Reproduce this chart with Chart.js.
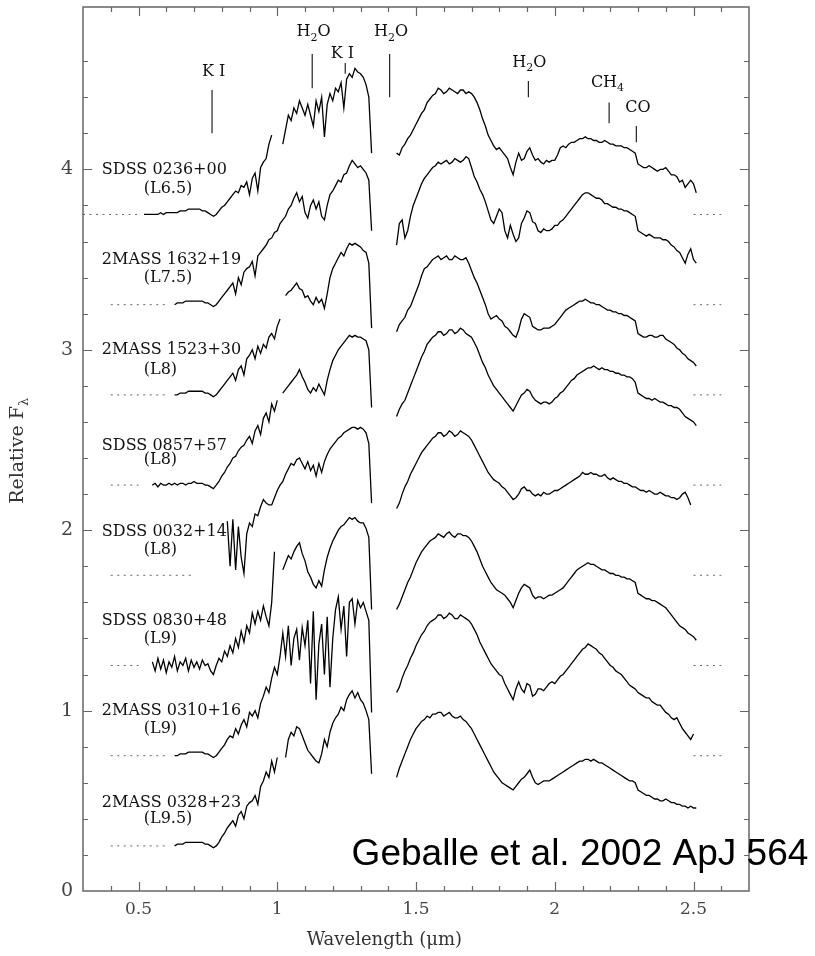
<!DOCTYPE html>
<html>
<head>
<meta charset="utf-8">
<script src="https://cdn.jsdelivr.net/npm/chart.js@4.4.1/dist/chart.umd.min.js"></script>
<style>
  html, body { margin: 0; padding: 0; background: #fff; }
  #wrap { width: 815px; height: 956px; }
</style>
</head>
<body>
<div id="wrap"><canvas id="c" width="815" height="956"></canvas></div>
<script>
// Wavelength sampling (micron) for the optical + J segment and for the H + K segment
const izWave = [
  0.52,0.53,0.54,0.55,0.56,0.57,0.58,0.59,0.60,0.61,
  0.62,0.63,0.64,0.65,0.66,0.67,0.68,0.69,0.70,0.71,
  0.72,0.73,0.74,0.75,0.76,0.77,0.78,0.79,0.80,0.81,
  0.82,0.83,0.84,0.85,0.86,0.87,0.88,0.89,0.90,0.91,
  0.92,0.93,0.94,0.95,0.96,0.97,0.98,0.99,1.00,1.01,
  1.02,1.03,1.04,1.05,1.06,1.07,1.08,1.09,1.10,1.11,
  1.12,1.13,1.14,1.15,1.16,1.17,1.18,1.19,1.20,1.21,
  1.22,1.23,1.24,1.25,1.26,1.27,1.28,1.29,1.30,1.31,
  1.32,1.33,1.34
];
const hkWave = [
  1.43,1.44,1.45,1.46,1.47,1.48,1.49,1.50,1.51,1.52,
  1.53,1.54,1.55,1.56,1.57,1.58,1.59,1.60,1.61,1.62,
  1.63,1.64,1.65,1.66,1.67,1.68,1.69,1.70,1.71,1.72,
  1.73,1.74,1.75,1.76,1.77,1.78,1.79,1.80,1.81,1.82,
  1.83,1.84,1.85,1.86,1.87,1.88,1.89,1.90,1.91,1.92,
  1.93,1.94,1.95,1.96,1.97,1.98,1.99,2.00,2.01,2.02,
  2.03,2.04,2.05,2.06,2.07,2.08,2.09,2.10,2.11,2.12,
  2.13,2.14,2.15,2.16,2.17,2.18,2.19,2.20,2.21,2.22,
  2.23,2.24,2.25,2.26,2.27,2.28,2.29,2.30,2.31,2.32,
  2.33,2.34,2.35,2.36,2.37,2.38,2.39,2.40,2.41,2.42,
  2.43,2.44,2.45,2.46,2.47,2.48,2.49,2.50,2.51
];

// Relative flux, offset per object (null = no data)
const sdss0236IZJ = [
  3.75,3.75,3.75,3.75,3.75,3.75,3.76,3.75,3.76,3.76,
  3.76,3.76,3.76,3.77,3.77,3.77,3.78,3.78,3.78,3.78,
  3.78,3.77,3.77,3.76,3.75,3.74,3.75,3.77,3.79,3.80,
  3.82,3.84,3.86,3.88,3.87,3.91,3.90,3.93,3.86,3.95,
  3.98,3.88,4.01,4.04,4.06,4.14,4.19,null,null,null,
  4.14,4.22,4.30,4.27,4.34,4.31,4.38,4.34,4.30,4.36,
  4.30,4.24,4.38,4.32,4.40,4.18,4.36,4.42,4.38,4.45,
  4.43,4.48,4.34,4.50,4.53,4.51,4.56,4.54,4.53,4.51,
  4.47,4.40,4.09
];
const sdss0236HK = [
  4.09,4.08,4.12,4.14,4.17,4.19,4.22,4.25,4.28,4.31,
  4.33,4.37,4.39,4.41,4.42,4.45,4.44,4.42,4.43,4.45,
  4.44,4.43,4.42,4.44,4.44,4.42,4.43,4.42,4.40,4.37,
  4.33,4.28,4.24,4.19,4.16,4.13,4.11,4.12,4.10,4.08,
  4.06,4.01,3.97,4.04,4.09,4.05,4.06,4.10,4.12,4.08,
  4.05,4.06,4.04,4.03,4.05,4.04,4.05,4.05,4.08,4.12,
  4.13,4.12,4.14,4.15,4.15,4.16,4.17,4.17,4.18,4.17,
  4.17,4.16,4.16,4.15,4.15,4.16,4.15,4.14,4.14,4.13,
  4.13,4.13,4.12,4.12,4.11,4.10,4.09,4.03,4.02,4.01,
  4.01,4.02,4.01,4.00,3.99,4.00,4.00,4.01,3.99,3.97,
  3.97,3.96,3.93,3.94,3.90,3.92,3.94,3.92,3.87
];
const twomass1632IZJ = [
  null,null,null,null,null,null,null,null,null,null,
  null,3.25,3.26,3.26,3.26,3.27,3.27,3.27,3.27,3.27,
  3.27,3.27,3.26,3.26,3.25,3.24,3.25,3.27,3.29,3.31,
  3.33,3.35,3.37,3.31,3.40,3.36,3.43,3.45,3.46,3.49,
  3.41,3.52,3.54,3.56,3.58,3.61,3.62,3.65,3.66,3.70,
  3.72,3.74,3.78,3.80,3.84,3.87,3.82,3.85,3.76,3.73,
  3.80,3.83,3.78,3.82,3.74,3.72,3.80,3.86,3.88,3.91,
  3.94,3.93,3.97,3.98,4.02,4.05,4.03,4.01,4.02,4.00,
  3.98,3.94,3.66
];
const twomass1632HK = [
  3.58,3.70,3.72,3.62,3.66,3.74,3.80,3.84,3.88,3.92,
  3.95,3.97,3.99,4.01,4.02,4.04,4.03,4.04,4.05,4.03,
  4.04,4.06,4.05,4.04,4.05,4.07,4.06,4.01,3.96,3.93,
  3.89,3.86,3.82,3.77,3.72,3.70,3.74,3.78,3.76,3.66,
  3.62,3.69,3.64,3.60,3.62,3.70,3.73,3.77,3.76,3.71,
  3.70,3.66,3.65,3.67,3.66,3.66,3.67,3.69,3.69,3.71,
  3.72,3.74,3.76,3.78,3.80,3.82,3.84,3.86,3.87,3.87,
  3.86,3.85,3.84,3.84,3.83,3.81,3.81,3.80,3.79,3.79,
  3.78,3.78,3.77,3.77,3.76,3.75,3.74,3.66,3.65,3.64,
  3.63,3.64,3.63,3.62,3.62,3.62,3.61,3.61,3.60,3.58,
  3.57,3.55,3.54,3.51,3.48,3.53,3.56,3.50,3.48
];
const twomass1523IZJ = [
  null,null,null,null,null,null,null,null,null,null,
  null,2.75,2.75,2.76,2.76,2.76,2.77,2.77,2.77,2.77,
  2.77,2.77,2.76,2.76,2.75,2.74,2.75,2.77,2.79,2.81,
  2.83,2.85,2.87,2.83,2.89,2.91,2.86,2.95,2.97,3.00,
  2.95,3.02,2.98,3.03,3.01,3.07,3.09,3.06,3.13,3.17,
  null,3.30,3.32,3.33,3.35,3.37,3.34,3.33,3.29,3.30,
  3.27,3.25,3.29,3.26,3.28,3.23,3.31,3.40,3.45,3.48,
  3.51,3.54,3.52,3.56,3.59,3.58,3.59,3.58,3.57,3.55,
  3.54,3.48,3.12
];
const twomass1523HK = [
  3.10,3.14,3.16,3.18,3.22,3.24,3.28,3.32,3.36,3.41,
  3.45,3.46,3.48,3.50,3.51,3.52,3.50,3.51,3.52,3.50,
  3.50,3.52,3.51,3.50,3.50,3.51,3.48,3.44,3.40,3.37,
  3.33,3.29,3.25,3.20,3.17,3.18,3.19,3.17,3.16,3.13,
  3.12,3.10,3.08,3.07,3.11,3.17,3.20,3.19,3.18,3.13,
  3.12,3.11,3.11,3.12,3.12,3.12,3.13,3.14,3.16,3.18,
  3.20,3.22,3.23,3.24,3.25,3.26,3.27,3.27,3.28,3.27,
  3.26,3.26,3.25,3.25,3.24,3.23,3.22,3.22,3.21,3.21,
  3.20,3.20,3.19,3.19,3.18,3.17,3.16,3.09,3.08,3.07,
  3.07,3.08,3.08,3.07,3.07,3.08,3.08,3.06,3.05,3.04,
  3.03,3.01,3.00,2.98,2.97,2.95,2.94,2.93,2.91
];
const sdss0857IZJ = [
  null,null,null,2.25,2.26,2.24,2.26,2.25,2.25,2.26,
  2.25,2.26,2.25,2.26,2.26,2.25,2.26,2.26,2.27,2.26,
  2.26,2.26,2.25,2.25,2.24,2.23,2.25,2.27,2.30,2.32,
  2.35,2.37,2.40,2.41,2.44,2.46,2.47,2.50,2.52,2.48,
  2.55,2.58,2.53,2.62,2.65,2.60,2.70,2.66,2.72,null,
  2.76,2.78,2.80,2.82,2.84,2.86,2.89,2.85,2.82,2.78,
  2.76,2.79,2.77,2.81,2.78,2.75,2.83,2.89,2.94,2.97,
  3.00,3.02,3.04,3.06,3.08,3.07,3.08,3.07,3.07,3.06,
  3.05,3.00,2.68
];
const sdss0857HK = [
  2.63,2.67,2.70,2.72,2.76,2.80,2.84,2.88,2.92,2.96,
  2.99,3.03,3.05,3.07,3.08,3.10,3.10,3.08,3.09,3.11,
  3.11,3.09,3.10,3.12,3.11,3.09,3.08,3.07,3.04,3.01,
  2.97,2.93,2.90,2.86,2.83,2.80,2.78,2.76,2.74,2.72,
  2.70,2.68,2.66,2.69,2.72,2.75,2.76,2.78,2.77,2.74,
  2.72,2.71,2.70,2.71,2.71,2.70,2.71,2.73,2.74,2.76,
  2.77,2.79,2.81,2.83,2.84,2.86,2.87,2.88,2.89,2.90,
  2.90,2.91,2.90,2.89,2.90,2.89,2.89,2.88,2.88,2.87,
  2.87,2.86,2.86,2.85,2.85,2.84,2.82,2.76,2.75,2.74,
  2.73,2.73,2.72,2.73,2.72,2.71,2.71,2.70,2.69,2.69,
  2.68,2.68,2.67,2.65,2.63,2.62,2.61,2.60,2.58
];
const sdss0032IZJ = [
  null,null,null,null,null,null,null,null,null,null,
  null,null,null,null,null,null,null,null,null,null,
  null,null,null,null,null,null,null,null,null,null,
  2.05,1.80,2.06,1.78,2.02,1.85,1.76,1.98,2.04,2.02,
  2.09,2.08,2.13,2.17,2.15,2.14,2.14,2.18,2.22,2.25,
  2.27,2.31,2.34,2.37,2.36,2.39,2.40,2.37,2.34,2.38,
  2.33,2.36,2.30,2.37,2.32,2.38,2.42,2.45,2.47,2.49,
  2.51,2.52,2.54,2.55,2.56,2.57,2.57,2.56,2.57,2.56,
  2.54,2.48,2.15
];
const sdss0032HK = [
  2.12,2.15,2.20,2.24,2.27,2.31,2.34,2.37,2.40,2.43,
  2.45,2.47,2.49,2.51,2.52,2.54,2.54,2.52,2.53,2.55,
  2.54,2.52,2.53,2.55,2.54,2.53,2.52,2.50,2.47,2.44,
  2.41,2.38,2.35,2.32,2.30,2.28,2.27,2.26,2.24,2.23,
  2.21,2.19,2.17,2.18,2.20,2.23,2.24,2.22,2.22,2.20,
  2.19,2.20,2.19,2.21,2.20,2.20,2.21,2.22,2.22,2.23,
  2.24,2.25,2.26,2.27,2.28,2.29,2.30,2.32,2.31,2.31,
  2.32,2.31,2.31,2.30,2.30,2.31,2.29,2.28,2.29,2.28,
  2.27,2.27,2.26,2.26,2.25,2.24,2.24,2.23,2.22,2.22,
  2.21,2.22,2.21,2.20,2.20,2.21,2.20,2.19,2.19,2.18,
  2.18,2.17,2.18,2.20,2.21,2.18,2.14,null,null
];
const sdss0830IZJ = [
  null,null,null,1.27,1.22,1.29,1.23,1.28,1.21,1.27,
  1.24,1.30,1.22,1.27,1.25,1.29,1.22,1.28,1.24,1.27,
  1.23,1.28,1.25,1.26,1.22,1.20,1.25,1.29,1.27,1.33,
  1.30,1.36,1.32,1.40,1.35,1.44,1.38,1.47,1.43,1.54,
  1.48,1.55,1.50,1.58,1.52,1.47,1.60,1.88,null,null,
  1.78,1.82,1.86,1.84,1.88,1.91,1.93,1.87,1.83,1.77,
  1.74,1.70,1.68,1.72,1.69,1.78,1.85,1.90,1.94,1.97,
  2.00,2.02,2.03,2.05,2.07,2.06,2.07,2.05,2.04,2.04,
  2.01,1.96,1.56
];
const sdss0830HK = [
  1.56,1.59,1.63,1.67,1.71,1.74,1.78,1.82,1.85,1.88,
  1.90,1.92,1.94,1.95,1.96,1.98,1.97,1.96,1.98,1.99,
  1.97,1.96,1.98,1.98,1.97,1.97,1.96,1.94,1.91,1.88,
  1.84,1.80,1.77,1.74,1.71,1.69,1.67,1.66,1.65,1.64,
  1.62,1.60,1.57,1.61,1.65,1.68,1.70,1.69,1.68,1.64,
  1.62,1.63,1.63,1.62,1.63,1.64,1.64,1.65,1.66,1.67,
  1.68,1.70,1.72,1.74,1.76,1.78,1.79,1.80,1.81,1.82,
  1.81,1.81,1.80,1.79,1.78,1.78,1.77,1.76,1.76,1.75,
  1.75,1.74,1.74,1.73,1.73,1.72,1.71,1.65,1.64,1.63,
  1.62,1.62,1.61,1.61,1.60,1.59,1.58,1.57,1.55,1.53,
  1.51,1.49,1.47,1.46,1.45,1.43,1.42,1.41,1.39
];
const twomass0310IZJ = [
  null,null,null,null,null,null,null,null,null,null,
  null,0.75,0.75,0.76,0.76,0.76,0.77,0.77,0.77,0.77,
  0.77,0.77,0.76,0.76,0.75,0.74,0.75,0.77,0.79,0.81,
  0.84,0.86,0.85,0.90,0.87,0.92,0.95,0.91,0.99,0.97,
  1.00,0.96,1.04,1.08,1.13,1.10,1.18,1.24,1.20,1.30,
  1.43,1.30,1.47,1.25,1.40,1.45,1.28,1.46,1.36,1.50,
  1.15,1.55,1.06,1.37,1.48,1.20,1.52,1.13,1.40,1.56,
  1.63,1.45,1.58,1.30,1.60,1.62,1.48,1.61,1.57,1.60,
  1.55,1.50,0.99
];
const twomass0310HK = [
  1.10,1.13,1.18,1.22,1.25,1.29,1.32,1.36,1.39,1.42,
  1.44,1.47,1.49,1.50,1.51,1.53,1.53,1.51,1.52,1.54,
  1.53,1.51,1.51,1.53,1.52,1.51,1.50,1.48,1.45,1.42,
  1.38,1.35,1.32,1.29,1.26,1.24,1.22,1.20,1.19,1.15,
  1.12,1.09,1.06,1.12,1.16,1.12,1.10,1.15,1.14,1.08,
  1.09,1.12,1.12,1.11,1.13,1.15,1.16,1.15,1.17,1.19,
  1.20,1.22,1.24,1.26,1.28,1.30,1.32,1.34,1.35,1.37,
  1.36,1.35,1.34,1.32,1.31,1.29,1.27,1.25,1.24,1.22,
  1.21,1.20,1.18,1.16,1.14,1.13,1.12,1.10,1.09,1.08,
  1.07,1.07,1.05,1.04,1.03,1.03,1.01,0.99,0.98,0.96,
  0.95,0.96,0.93,0.90,0.88,0.86,0.84,0.87,null
];
const twomass0328IZJ = [
  null,null,null,null,null,null,null,null,null,null,
  null,0.25,0.26,0.26,0.26,0.27,0.27,0.27,0.27,0.27,
  0.27,0.27,0.26,0.26,0.25,0.24,0.25,0.27,0.30,0.32,
  0.35,0.37,0.39,0.36,0.42,0.44,0.40,0.47,0.49,0.50,
  0.53,0.48,0.58,0.61,0.66,0.63,0.72,0.66,0.74,null,
  null,0.74,0.84,0.88,0.86,0.91,0.90,0.86,0.82,0.78,
  0.76,0.74,0.72,0.71,0.76,0.84,0.80,0.88,0.93,0.96,
  0.98,1.02,1.00,1.06,1.09,1.11,1.07,1.10,1.06,1.04,
  1.00,0.95,0.65
];
const twomass0328HK = [
  0.63,0.68,0.72,0.76,0.80,0.84,0.87,0.90,0.92,0.94,
  0.95,0.97,0.96,0.98,0.98,0.99,0.99,0.97,0.98,0.99,
  0.97,0.96,0.96,0.97,0.95,0.94,0.92,0.90,0.87,0.84,
  0.81,0.78,0.75,0.72,0.69,0.66,0.64,0.62,0.60,0.59,
  0.58,0.57,0.56,0.58,0.60,0.62,0.63,0.65,0.67,0.63,
  0.60,0.59,0.60,0.61,0.61,0.61,0.62,0.63,0.64,0.65,
  0.66,0.67,0.68,0.69,0.70,0.71,0.72,0.72,0.73,0.73,
  0.72,0.73,0.72,0.71,0.71,0.70,0.69,0.68,0.67,0.66,
  0.65,0.64,0.63,0.62,0.61,0.61,0.60,0.56,0.55,0.54,
  0.53,0.53,0.52,0.51,0.51,0.50,0.50,0.51,0.50,0.49,
  0.49,0.48,0.48,0.47,0.47,0.46,0.47,0.46,0.46
];

// Object names, spectral types and label rows
const objectNames = ['SDSS 0236+00','2MASS 1632+19','2MASS 1523+30','SDSS 0857+57',
                     'SDSS 0032+14','SDSS 0830+48','2MASS 0310+16','2MASS 0328+23'];
const spectralTypes = ['(L6.5)','(L7.5)','(L8)','(L8)','(L8)','(L9)','(L9)','(L9.5)'];
const nameLabelY = [4.00, 3.50, 3.00, 2.47, 1.99, 1.50, 1.00, 0.49];
const typeLabelY = [3.89, 3.40, 2.89, 2.39, 1.89, 1.40, 0.90, 0.40];

// Zero level of each offset spectrum, with the extent of its dotted marks
const zeroLevels = [3.75, 3.25, 2.75, 2.25, 1.75, 1.25, 0.75, 0.25];
const leftDotFrom = [0.30, 0.40, 0.40, 0.40, 0.40, 0.40, 0.40, 0.40];
const leftDotTo   = [0.50, 0.60, 0.60, 0.50, 0.70, 0.50, 0.60, 0.60];
const rightDotRows = [0, 1, 2, 3, 4, 5, 6];
const rightDotFrom = 2.50, rightDotTo = 2.60;

// Absorption features: wavelength, tick extent, label position
const featureNames = ['K I', 'H_2O', 'K I', 'H_2O', 'H_2O', 'CH_4', 'CO'];
const featureWave  = [0.765, 1.126, 1.245, 1.405, 1.905, 2.196, 2.294];
const featureLow   = [4.20, 4.45, 4.53, 4.40, 4.40, 4.255, 4.15];
const featureHigh  = [4.44, 4.64, 4.59, 4.64, 4.49, 4.37, 4.24];
const featureLabelX = [0.771, 1.131, 1.235, 1.41, 1.908, 2.19, 2.30];
const featureLabelY = [4.54, 4.76, 4.64, 4.76, 4.59, 4.48, 4.34];

const izSeries = [sdss0236IZJ, twomass1632IZJ, twomass1523IZJ, sdss0857IZJ,
                  sdss0032IZJ, sdss0830IZJ, twomass0310IZJ, twomass0328IZJ];
const hkSeries = [sdss0236HK, twomass1632HK, twomass1523HK, sdss0857HK,
                  sdss0032HK, sdss0830HK, twomass0310HK, twomass0328HK];

const SERIF = '"DejaVu Serif", "Liberation Serif", serif';

function pairUp(wave, flux) {
  return wave.map((w, i) => ({ x: w, y: flux[i] }));
}

const datasets = [];
izSeries.forEach((flux, k) => {
  datasets.push({ label: objectNames[k] + ' IZJ', data: pairUp(izWave, flux),
    borderColor: '#000', borderWidth: 1.3, pointRadius: 0, spanGaps: false, tension: 0 });
  datasets.push({ label: objectNames[k] + ' HK', data: pairUp(hkWave, hkSeries[k]),
    borderColor: '#000', borderWidth: 1.3, pointRadius: 0, spanGaps: false, tension: 0 });
});
zeroLevels.forEach((z, k) => {
  datasets.push({ label: 'zero ' + k, data: [{ x: leftDotFrom[k], y: z }, { x: leftDotTo[k], y: z }],
    borderColor: '#666', borderWidth: 1, borderDash: [2, 4.5], pointRadius: 0 });
});
rightDotRows.forEach(k => {
  datasets.push({ label: 'zero r ' + k, data: [{ x: rightDotFrom, y: zeroLevels[k] }, { x: rightDotTo, y: zeroLevels[k] }],
    borderColor: '#666', borderWidth: 1, borderDash: [2, 4.5], pointRadius: 0 });
});
featureWave.forEach((w, k) => {
  datasets.push({ label: 'feature ' + k, data: [{ x: w, y: featureLow[k] }, { x: w, y: featureHigh[k] }],
    borderColor: '#222', borderWidth: 1.2, pointRadius: 0 });
});

// Text with "_" marking a one-character subscript
function drawSubText(ctx, str, cx, cy, size) {
  const parts = [];
  for (let i = 0; i < str.length; i++) {
    if (str[i] === '_' && i + 1 < str.length) { parts.push({ t: str[i + 1], sub: true }); i++; }
    else parts.push({ t: str[i], sub: false });
  }
  const big = size + 'px ' + SERIF, small = Math.round(size * 0.68) + 'px ' + SERIF;
  let total = 0;
  parts.forEach(p => { ctx.font = p.sub ? small : big; p.w = ctx.measureText(p.t).width; total += p.w; });
  let x = cx - total / 2;
  ctx.textAlign = 'left';
  ctx.textBaseline = 'middle';
  parts.forEach(p => {
    ctx.font = p.sub ? small : big;
    ctx.fillText(p.t, x, p.sub ? cy + size * 0.35 : cy);
    x += p.w;
  });
}

const isHalf = v => Math.abs(v * 2 - Math.round(v * 2)) < 1e-6;
const isTenth = v => Math.abs(v * 10 - Math.round(v * 10)) < 1e-6;
const isInt = v => Math.abs(v - Math.round(v)) < 1e-6;
const isFifth = v => Math.abs(v * 5 - Math.round(v * 5)) < 1e-6;

const decorations = {
  id: 'decorations',
  afterDatasetsDraw(chart) {
    const { ctx, chartArea: a, scales: { x, y } } = chart;
    ctx.save();
    // frame
    ctx.strokeStyle = '#666';
    ctx.lineWidth = 1.5;
    ctx.strokeRect(a.left, a.top, a.right - a.left, a.bottom - a.top);
    // inward tick marks on all four sides
    ctx.lineWidth = 1.2;
    ctx.beginPath();
    x.ticks.forEach(t => {
      const v = t.value;
      if (!isTenth(v) || v <= x.min + 1e-6 || v >= x.max - 1e-6) return;
      const px = Math.round(x.getPixelForValue(v)) + 0.5;
      const len = isHalf(v) ? 9 : 5;
      ctx.moveTo(px, a.bottom); ctx.lineTo(px, a.bottom - len);
      ctx.moveTo(px, a.top); ctx.lineTo(px, a.top + len);
    });
    y.ticks.forEach(t => {
      const v = t.value;
      if (!isFifth(v) || v <= y.min + 1e-6 || v >= y.max - 1e-6) return;
      const py = Math.round(y.getPixelForValue(v)) + 0.5;
      const len = isInt(v) ? 9 : 5;
      ctx.moveTo(a.left, py); ctx.lineTo(a.left + len, py);
      ctx.moveTo(a.right, py); ctx.lineTo(a.right - len, py);
    });
    ctx.stroke();

    // object labels
    ctx.fillStyle = '#111';
    ctx.font = '16px ' + SERIF;
    ctx.textAlign = 'left';
    ctx.textBaseline = 'middle';
    objectNames.forEach((n, k) => {
      ctx.fillText(n, x.getPixelForValue(0.368), y.getPixelForValue(nameLabelY[k]));
      ctx.fillText(spectralTypes[k], x.getPixelForValue(0.519), y.getPixelForValue(typeLabelY[k]));
    });

    // feature labels
    featureNames.forEach((n, k) => {
      drawSubText(ctx, n, x.getPixelForValue(featureLabelX[k]), y.getPixelForValue(featureLabelY[k]), 16);
    });

    // axis titles
    ctx.fillStyle = '#333';
    ctx.font = '18px ' + SERIF;
    ctx.textAlign = 'center';
    ctx.textBaseline = 'middle';
    ctx.fillText('Wavelength (\u03bcm)', x.getPixelForValue(1.386), a.bottom + 49);
    ctx.save();
    ctx.translate(a.left - 65, y.getPixelForValue(2.44));
    ctx.rotate(-Math.PI / 2);
    drawSubText(ctx, 'Relative F_\u03bb', 0, 0, 19);
    ctx.restore();

    // citation
    ctx.fillStyle = '#000';
    ctx.font = '37px "Liberation Sans", Arial, sans-serif';
    ctx.textAlign = 'left';
    ctx.textBaseline = 'middle';
    ctx.fillText('Geballe et al. 2002 ApJ 564', x.getPixelForValue(1.268), y.getPixelForValue(0.2));
    ctx.restore();
  }
};

new Chart(document.getElementById('c'), {
  type: 'line',
  data: { datasets },
  options: {
    responsive: false,
    animation: false,
    devicePixelRatio: 1,
    layout: { padding: { left: 0, right: 66, top: 7, bottom: 0 } },
    plugins: { legend: { display: false }, tooltip: { enabled: false } },
    elements: { line: { borderCapStyle: 'butt', borderJoinStyle: 'miter' } },
    scales: {
      x: {
        type: 'linear', min: 0.3, max: 2.7,
        grid: { display: false, drawTicks: false },
        border: { display: false },
        afterFit(s) { s.height = 65; s.paddingLeft = 0; s.paddingRight = 0; },
        ticks: {
          stepSize: 0.1, autoSkip: false, maxRotation: 0, padding: 8,
          color: '#444', font: { family: SERIF, size: 17 },
          callback: v => isHalf(v) ? String(Math.round(v * 2) / 2) : ''
        }
      },
      y: {
        type: 'linear', min: 0, max: 4.9,
        grid: { display: false, drawTicks: false },
        border: { display: false },
        afterFit(s) { s.width = 83; s.paddingTop = 0; s.paddingBottom = 0; },
        ticks: {
          stepSize: 0.2, autoSkip: false, padding: 10,
          color: '#444', font: { family: SERIF, size: 19 },
          callback: v => isInt(v) ? String(Math.round(v)) : ''
        }
      }
    }
  },
  plugins: [decorations]
});
</script>
</body>
</html>
